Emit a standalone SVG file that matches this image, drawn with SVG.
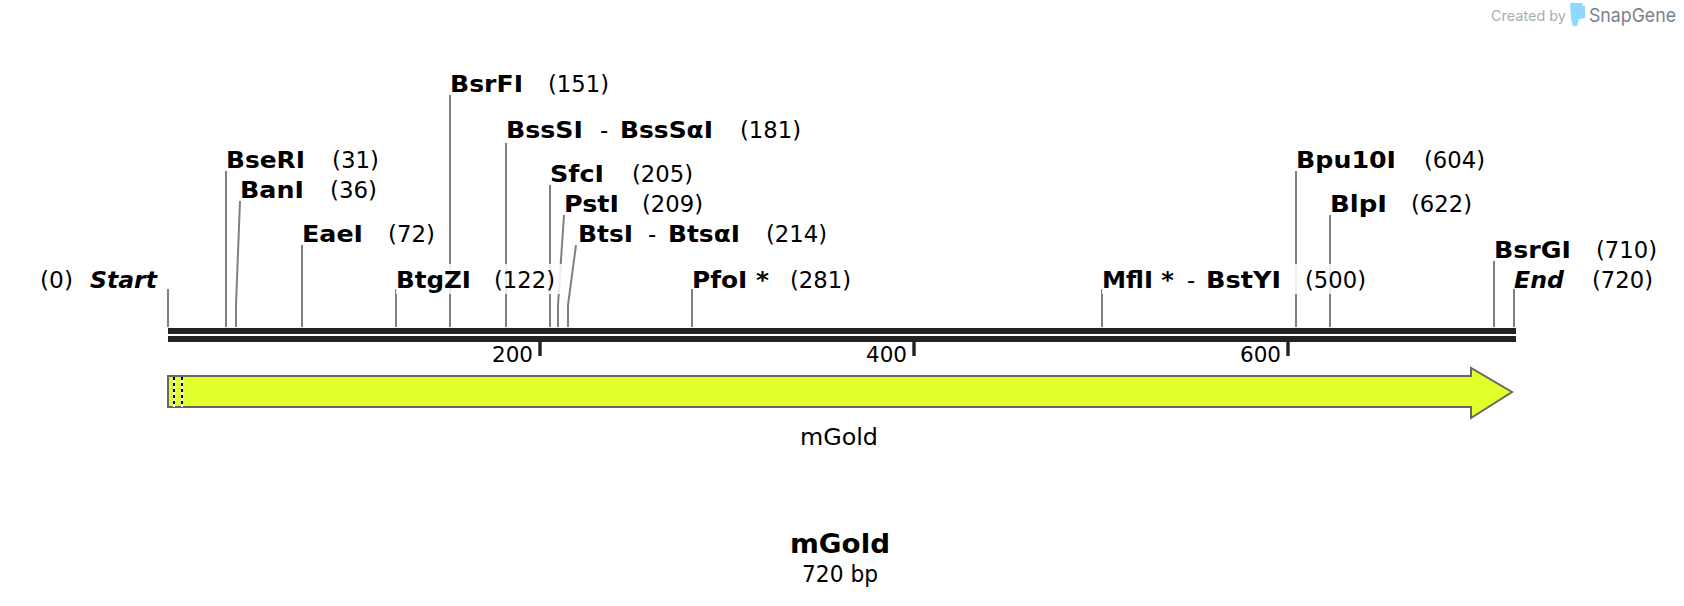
<svg xmlns="http://www.w3.org/2000/svg" width="1684" height="606" viewBox="0 0 1684 606">
<style>
text{font-family:"DejaVu Sans",Verdana,sans-serif;font-size:23px;fill:#000}
.b{font-weight:bold}
.i{font-weight:bold;font-style:italic}
.n{font-size:22px}
.c{fill:none;stroke:#808080;stroke-width:2}
.h{fill:#fff;fill-opacity:.85}
.d{stroke:#000;stroke-width:2;stroke-dasharray:3 3}
.w{stroke:#fff;stroke-width:2}
.t{stroke:#222;stroke-width:3.4}
</style>
<rect width="1684" height="606" fill="#fff"/>
<g id="connectors">
<path class="c" d="M168 289V327"/>
<path class="c" d="M226 171V327"/>
<path class="c" d="M240 201L236 305V327"/>
<path class="c" d="M302 245V327"/>
<path class="c" d="M396 289V327"/>
<path class="c" d="M450 95V327"/>
<path class="c" d="M506 143V327"/>
<path class="c" d="M550 185V327"/>
<path class="c" d="M564 215L558 305V327"/>
<path class="c" d="M576 245L568 305V327"/>
<path class="c" d="M692 289V327"/>
<path class="c" d="M1102 289V327"/>
<path class="c" d="M1296 171V327"/>
<path class="c" d="M1330 215V327"/>
<path class="c" d="M1494 261V327"/>
<path class="c" d="M1514 289V327"/>
</g>
<rect class="h" x="396" y="264" width="166" height="30"/>
<rect class="h" x="1102" y="264" width="268" height="30"/>
<g id="backbone">
<rect x="168" y="328" width="1348" height="6" fill="#222"/>
<rect x="168" y="336" width="1348" height="6" fill="#222"/>
<path class="t" d="M540 342V356M914 342V356M1288 342V356"/>
<text class="n" x="492" y="362" textLength="41" lengthAdjust="spacingAndGlyphs">200</text>
<text class="n" x="866" y="362" textLength="41" lengthAdjust="spacingAndGlyphs">400</text>
<text class="n" x="1240" y="362" textLength="41" lengthAdjust="spacingAndGlyphs">600</text>
</g>
<g id="feature-mGold">
<path d="M168 376H1471V368L1512 392L1471 418V407H168Z" fill="#e2ff2b" stroke="#666" stroke-width="2"/>
<path class="w" d="M174 377V407M182 377V407"/>
<path class="d" d="M174 377V407M182 377V407"/>
<text x="800" y="445" textLength="78" lengthAdjust="spacingAndGlyphs">mGold</text>
</g>
<g id="site-start"><text x="40" y="288" textLength="33" lengthAdjust="spacingAndGlyphs">(0)</text><text class="i" x="90" y="288" textLength="67" lengthAdjust="spacingAndGlyphs">Start</text></g>
<g id="site-BseRI"><text class="b" x="226" y="168" textLength="79" lengthAdjust="spacingAndGlyphs">BseRI</text><text x="332" y="168" textLength="47" lengthAdjust="spacingAndGlyphs">(31)</text></g>
<g id="site-BanI"><text class="b" x="240" y="198" textLength="64" lengthAdjust="spacingAndGlyphs">BanI</text><text x="330" y="198" textLength="47" lengthAdjust="spacingAndGlyphs">(36)</text></g>
<g id="site-EaeI"><text class="b" x="302" y="242" textLength="61" lengthAdjust="spacingAndGlyphs">EaeI</text><text x="388" y="242" textLength="47" lengthAdjust="spacingAndGlyphs">(72)</text></g>
<g id="site-BtgZI"><text class="b" x="396" y="288" textLength="75" lengthAdjust="spacingAndGlyphs">BtgZI</text><text x="494" y="288" textLength="61" lengthAdjust="spacingAndGlyphs">(122)</text></g>
<g id="site-BsrFI"><text class="b" x="450" y="92" textLength="73" lengthAdjust="spacingAndGlyphs">BsrFI</text><text x="548" y="92" textLength="61" lengthAdjust="spacingAndGlyphs">(151)</text></g>
<g id="site-BssSI"><text class="b" x="506" y="138" textLength="77" lengthAdjust="spacingAndGlyphs">BssSI</text><text x="600" y="138">-</text><text class="b" x="620" y="138" textLength="93" lengthAdjust="spacingAndGlyphs">BssSαI</text><text x="740" y="138" textLength="61" lengthAdjust="spacingAndGlyphs">(181)</text></g>
<g id="site-SfcI"><text class="b" x="550" y="182" textLength="54" lengthAdjust="spacingAndGlyphs">SfcI</text><text x="632" y="182" textLength="61" lengthAdjust="spacingAndGlyphs">(205)</text></g>
<g id="site-PstI"><text class="b" x="564" y="212" textLength="55" lengthAdjust="spacingAndGlyphs">PstI</text><text x="642" y="212" textLength="61" lengthAdjust="spacingAndGlyphs">(209)</text></g>
<g id="site-BtsI"><text class="b" x="578" y="242" textLength="55" lengthAdjust="spacingAndGlyphs">BtsI</text><text x="648" y="242">-</text><text class="b" x="668" y="242" textLength="72" lengthAdjust="spacingAndGlyphs">BtsαI</text><text x="766" y="242" textLength="61" lengthAdjust="spacingAndGlyphs">(214)</text></g>
<g id="site-PfoI"><text class="b" x="692" y="288" textLength="77" lengthAdjust="spacingAndGlyphs">PfoI *</text><text x="790" y="288" textLength="61" lengthAdjust="spacingAndGlyphs">(281)</text></g>
<g id="site-MflI"><text class="b" x="1102" y="288" textLength="72" lengthAdjust="spacingAndGlyphs">MflI *</text><text x="1187" y="288">-</text><text class="b" x="1206" y="288" textLength="75" lengthAdjust="spacingAndGlyphs">BstYI</text><text x="1305" y="288" textLength="61" lengthAdjust="spacingAndGlyphs">(500)</text></g>
<g id="site-Bpu10I"><text class="b" x="1296" y="168" textLength="100" lengthAdjust="spacingAndGlyphs">Bpu10I</text><text x="1424" y="168" textLength="61" lengthAdjust="spacingAndGlyphs">(604)</text></g>
<g id="site-BlpI"><text class="b" x="1330" y="212" textLength="57" lengthAdjust="spacingAndGlyphs">BlpI</text><text x="1411" y="212" textLength="61" lengthAdjust="spacingAndGlyphs">(622)</text></g>
<g id="site-BsrGI"><text class="b" x="1494" y="258" textLength="77" lengthAdjust="spacingAndGlyphs">BsrGI</text><text x="1596" y="258" textLength="61" lengthAdjust="spacingAndGlyphs">(710)</text></g>
<g id="site-end"><text class="i" x="1514" y="288" textLength="50" lengthAdjust="spacingAndGlyphs">End</text><text x="1592" y="288" textLength="61" lengthAdjust="spacingAndGlyphs">(720)</text></g>
<g id="title">
<text class="b" x="790" y="553" style="font-size:27px" textLength="100" lengthAdjust="spacingAndGlyphs">mGold</text>
<text x="802" y="582" textLength="76" lengthAdjust="spacingAndGlyphs">720 bp</text>
</g>
<g id="credit">
<text x="1491" y="21" style="font-family:Inter,sans-serif;font-size:14px;fill:#a8adb2" textLength="75" lengthAdjust="spacingAndGlyphs">Created by</text>
<path d="M1570 3H1582L1583 6H1585V18L1579 19L1577 26H1573L1571 19Z" fill="#8fd8ff"/>
<text x="1589" y="22" style="font-family:Inter,sans-serif;font-size:19px;fill:#78828c" textLength="87" lengthAdjust="spacingAndGlyphs">SnapGene</text>
</g>
</svg>
